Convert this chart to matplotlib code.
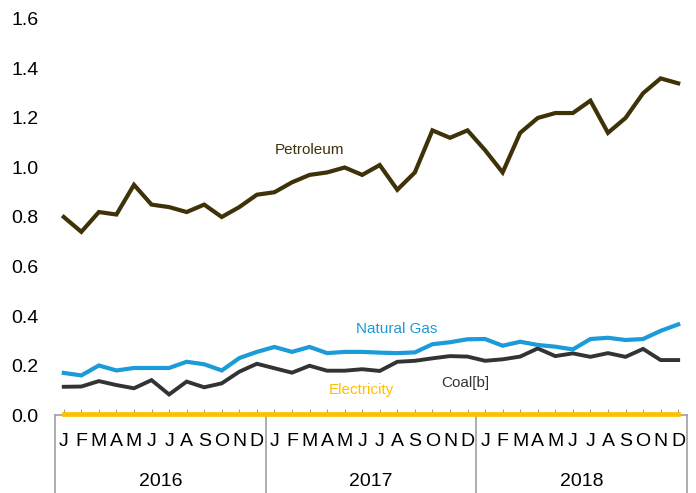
import numpy as np
import matplotlib
matplotlib.use('Agg')
import matplotlib.pyplot as plt
from matplotlib.transforms import blended_transform_factory

plt.rcParams['font.family'] = ['Liberation Sans', 'DejaVu Sans']

# Monthly values, Jan 2016 - Dec 2018
years = ['2016', '2017', '2018']
months = ['J', 'F', 'M', 'A', 'M', 'J', 'J', 'A', 'S', 'O', 'N', 'D']

petroleum = [0.80, 0.74, 0.82, 0.81, 0.93, 0.85, 0.84, 0.82, 0.85, 0.80, 0.84, 0.89,
             0.90, 0.94, 0.97, 0.98, 1.00, 0.97, 1.01, 0.91, 0.98, 1.15, 1.12, 1.15,
             1.07, 0.98, 1.14, 1.20, 1.22, 1.22, 1.27, 1.14, 1.20, 1.30, 1.36, 1.34]
natural_gas = [0.17, 0.16, 0.20, 0.18, 0.19, 0.19, 0.19, 0.215, 0.205, 0.18, 0.23, 0.255,
               0.275, 0.255, 0.275, 0.25, 0.255, 0.255, 0.252, 0.25, 0.253, 0.286, 0.294, 0.306,
               0.307, 0.28, 0.296, 0.283, 0.276, 0.265, 0.307, 0.312, 0.303, 0.307, 0.34, 0.366]
coal = [0.114, 0.115, 0.137, 0.121, 0.108, 0.141, 0.083, 0.135, 0.112, 0.128, 0.175, 0.207,
        0.189, 0.171, 0.199, 0.179, 0.179, 0.185, 0.178, 0.215, 0.219, 0.229, 0.238, 0.236,
        0.219, 0.225, 0.236, 0.269, 0.238, 0.249, 0.235, 0.25, 0.235, 0.267, 0.222, 0.222]
electricity = [0.004] * 36

x = np.arange(len(petroleum))

fig, ax = plt.subplots(figsize=(6.96, 4.93), dpi=100)
fig.subplots_adjust(left=0.079, right=0.987, top=0.9615, bottom=0.1582)

ax.plot(x, coal, color='#333333', lw=2.8, solid_joinstyle='miter')
ax.plot(x, natural_gas, color='#1b9bd7', lw=3, solid_joinstyle='miter')
ax.plot(x, petroleum, color='#3e3208', lw=3, solid_joinstyle='miter')
ax.plot(x, electricity, color='#ffc000', lw=3.4, solid_joinstyle='miter', clip_on=False, zorder=3)

ax.text(14.0, 1.07, 'Petroleum', color='#3e3208', fontsize=11, ha='center', va='center')
ax.text(18.95, 0.348, 'Natural Gas', color='#1b9bd7', fontsize=11, ha='center', va='center')
ax.text(16.95, 0.10, 'Electricity', color='#ffc000', fontsize=11, ha='center', va='center')
ax.text(22.9, 0.128, 'Coal[b]', color='#333333', fontsize=11, ha='center', va='center')

ax.set_xlim(-0.5, 35.5)
ax.set_ylim(0, 1.6)
ax.set_yticks(np.arange(0, 1.61, 0.2))
ax.set_yticklabels(['%.1f' % v for v in np.arange(0, 1.61, 0.2)], fontsize=14)
ax.tick_params(axis='y', length=0, pad=12)

ax.set_xticks(x)
ax.set_xticklabels(months * 3, fontsize=14)
ax.tick_params(axis='x', direction='in', length=4, color='#a0a0a0', pad=13)
for t in ax.xaxis.get_major_ticks():
    t.tick1line.set_zorder(4)

for side in ['left', 'right', 'top']:
    ax.spines[side].set_visible(False)
ax.spines['bottom'].set_color('#a0a0a0')
ax.spines['bottom'].set_linewidth(1.2)

# year group separators and labels under the axis
trans = blended_transform_factory(ax.transData, ax.transAxes)
for b in [-0.5, 11.5, 23.5, 35.5]:
    ax.plot([b, b], [0, -0.2], color='#a0a0a0', lw=1.2, transform=trans, clip_on=False)
for i, yr in enumerate(years):
    ax.text(5.5 + 12 * i, -0.168, yr, transform=trans, fontsize=14, ha='center', va='center')

fig.savefig('out.png', dpi=100)
